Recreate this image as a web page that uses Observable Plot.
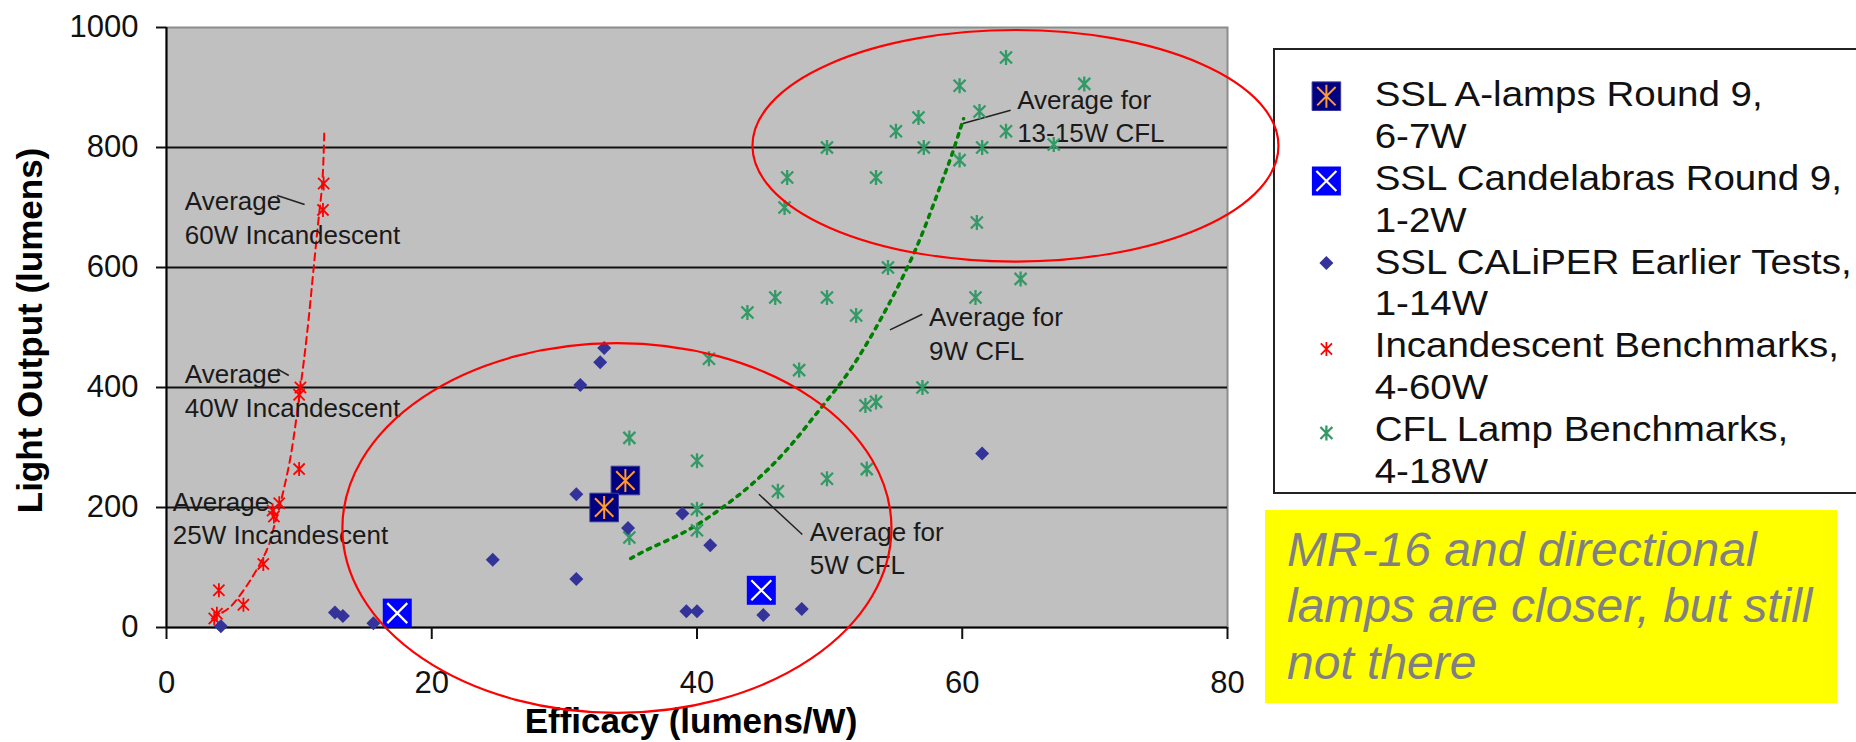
<!DOCTYPE html>
<html><head><meta charset="utf-8">
<script src="https://cdn.jsdelivr.net/npm/d3@7"></script>
<script src="https://cdn.jsdelivr.net/npm/@observablehq/plot@0.6"></script>
<style>
html,body{margin:0;padding:0;background:#fff;overflow:hidden;}
#wrap{position:relative;width:1856px;height:742px;overflow:hidden;font-family:"Liberation Sans",Arial,sans-serif;}
#legend{position:absolute;left:1273.3px;top:48.3px;}
#note{position:absolute;left:1264.6px;top:510px;width:572.4px;height:192.7px;background:#ffff00;color:#808080;font-style:italic;font-size:48px;line-height:56.7px;box-sizing:border-box;padding:11.7px 0 0 22.4px;white-space:nowrap;}
#chart{position:absolute;left:0;top:0;}
</style></head><body>
<div id="wrap"><div id="legend"></div><div id="note"></div><div id="chart"></div></div>
<script>
// ---------- data ----------
const xTicks = [0, 20, 40, 60, 80];
const yTicks = [0, 200, 400, 600, 800, 1000];
const gridLevels = [200, 400, 600, 800];

const seriesNames = [
  "SSL A-lamps Round 9,\n6-7W",
  "SSL Candelabras Round 9,\n1-2W",
  "SSL CALiPER Earlier Tests,\n1-14W",
  "Incandescent Benchmarks,\n4-60W",
  "CFL Lamp Benchmarks,\n4-18W"
];

const aLamps = [[34.6, 245], [33.0, 200]];
const candelabras = [[44.85, 62], [17.4, 24]];
const caliper = [
  [33.0, 466], [32.7, 442], [31.2, 404], [30.9, 222], [34.8, 166], [38.9, 190],
  [41.0, 137], [24.6, 113], [30.9, 81], [39.2, 27], [40.0, 27], [45.0, 21],
  [47.9, 31], [61.5, 290], [4.1, 2], [12.7, 25], [13.3, 19], [15.6, 7]
];
const incandescent = [
  [3.95, 62], [3.8, 23], [3.6, 15], [5.8, 38], [7.3, 106], [8.0, 195],
  [8.5, 207], [8.1, 185], [10.0, 264], [10.1, 400], [10.0, 388], [11.85, 740], [11.8, 696]
];
const cfl = [
  [49.8, 800], [46.8, 750], [53.5, 750], [46.6, 700], [54.4, 600], [43.8, 525],
  [45.9, 550], [49.8, 550], [52.0, 520], [63.3, 950], [59.8, 903], [69.2, 906],
  [56.7, 850], [61.3, 860], [55.0, 827], [63.3, 827], [57.1, 800], [61.5, 800],
  [66.9, 805], [59.8, 779], [61.1, 675], [64.4, 581], [61.0, 550], [57.0, 400],
  [40.9, 448], [47.7, 429], [52.7, 370], [53.5, 376], [34.9, 316], [40.0, 278],
  [49.8, 248], [52.8, 264], [46.1, 227], [40.0, 197], [40.0, 162], [34.9, 150]
];
const incandescentTrend = [
  [4.2, 25], [4.8, 34], [6.3, 78], [7.6, 131], [8.1, 167], [8.7, 217], [9.35, 284],
  [10.1, 400], [10.6, 490], [11.1, 600], [11.4, 667], [11.75, 742], [11.9, 828]
];
const cflTrend = [
  [35.0, 115], [36.0, 127], [39.3, 162], [41.8, 198], [44.3, 242], [46.6, 292],
  [49.1, 359], [51.6, 431], [54.2, 528], [56.5, 631], [58.5, 745], [59.2, 787], [60.1, 848]
];

const noteLabels = [
  "Average for\n13-15W CFL", "Average for\n9W CFL", "Average for\n5W CFL",
  "Average\n60W Incandescent", "Average\n40W Incandescent", "Average\n25W Incandescent"
];
const noteX = [64.14, 57.49, 48.5, 1.38, 1.38, 0.475];
const noteY = [905, 542, 185, 736, 447, 235];
const leaderX1 = [60.06, 54.55, 44.67, 8.35, 8.35, 7.09];
const leaderY1 = [840, 496, 222, 720, 431, 217];
const leaderX2 = [63.65, 56.99, 47.94, 10.41, 9.22, 7.97];
const leaderY2 = [862, 522, 155, 705, 420, 206];

const ellipseCX = [34.0, 64.05];
const ellipseCY = [165, 802];
const ellipseRX = [20.7, 19.83];
const ellipseRY = [308, 193];

const noteText = ["MR-16 and directional", "lamps are closer, but still", "not there"];

// ---------- symbols ----------
const rad = size => Math.sqrt(size / Math.PI);
const starSymbol = k => ({draw(ctx, size) {
  const r = rad(size), d = r * k;
  ctx.moveTo(0, -r); ctx.lineTo(0, r);
  ctx.moveTo(-d, -d); ctx.lineTo(d, d);
  ctx.moveTo(-d, d); ctx.lineTo(d, -d);
}});
const crossSymbol = {draw(ctx, size) {
  const r = rad(size);
  ctx.moveTo(-r, -r); ctx.lineTo(r, r);
  ctx.moveTo(-r, r); ctx.lineTo(r, -r);
}};
const squareSymbol = {draw(ctx, size) {
  const r = rad(size);
  ctx.moveTo(-r, -r); ctx.lineTo(r, -r); ctx.lineTo(r, r); ctx.lineTo(-r, r); ctx.closePath();
}};
const diamondSymbol = {draw(ctx, size) {
  const r = rad(size);
  ctx.moveTo(0, -r); ctx.lineTo(r, 0); ctx.lineTo(0, r); ctx.lineTo(-r, 0); ctx.closePath();
}};
const smallStar = starSymbol(0.8);
const innerStar = starSymbol(0.8);

const colors = {
  navy: "#000080", orange: "#ff9933", blue: "#0000ff",
  diamond: "#333399", red: "#ff0000", green: "#339966", trendGreen: "#008000"
};

const X = d => d[0], Y = d => d[1];

function ellipsesMark(index, scales) {
  const {x, y} = scales;
  const g = d3.create("svg:g");
  ellipseCX.forEach((cx, i) => {
    const px = x(cx), py = y(ellipseCY[i]);
    g.append("ellipse")
      .attr("cx", px).attr("cy", py)
      .attr("rx", x(cx + ellipseRX[i]) - px)
      .attr("ry", py - y(ellipseCY[i] + ellipseRY[i]))
      .attr("fill", "none").attr("stroke", colors.red).attr("stroke-width", 2.2);
  });
  return g.node();
}

const chart = Plot.plot({
  width: 1856, height: 742,
  marginLeft: 166, marginRight: 629, marginTop: 27, marginBottom: 115,
  style: {background: "transparent", fontFamily: "'Liberation Sans', Arial, sans-serif", overflow: "visible"},
  x: {domain: [0, 80], label: null},
  y: {domain: [0, 1000], label: null},
  marks: [
    Plot.frame({fill: "#c0c0c0", stroke: "#8c8c8c", strokeWidth: 2}),
    Plot.ruleY(gridLevels, {stroke: "#111", strokeWidth: 2}),
    Plot.ruleX([0], {stroke: "#000", strokeWidth: 2}),
    Plot.ruleY([0], {stroke: "#000", strokeWidth: 2}),
    Plot.axisY({ticks: yTicks, tickFormat: d3.format("d"), tickSize: 10, tickPadding: 18,
      fontSize: 31, color: "#111", strokeWidth: 2, label: null}),
    Plot.axisX({ticks: xTicks, tickFormat: d3.format("d"), tickSize: 12, tickPadding: 31,
      fontSize: 31, color: "#111", strokeWidth: 2, label: null}),
    Plot.text(["Light Output (lumens)"], {frameAnchor: "left", dx: -136, dy: 3, rotate: -90,
      textAnchor: "middle", lineAnchor: "middle", fontSize: 35, fontWeight: "bold", fill: "#000"}),
    Plot.text(["Efficacy (lumens/W)"], {frameAnchor: "bottom", dx: -6, dy: 81, lineAnchor: "top",
      textAnchor: "middle", fontSize: 35, fontWeight: "bold", fill: "#000"}),
    Plot.line(incandescentTrend, {x: X, y: Y, stroke: colors.red, strokeWidth: 2,
      strokeDasharray: "7,5", curve: "catmull-rom"}),
    Plot.line(cflTrend, {x: X, y: Y, stroke: colors.trendGreen, strokeWidth: 3.5,
      strokeDasharray: "3.5,6", curve: "catmull-rom"}),
    Plot.link(noteLabels, {x1: (d, i) => leaderX1[i], y1: (d, i) => leaderY1[i],
      x2: (d, i) => leaderX2[i], y2: (d, i) => leaderY2[i], stroke: "#222", strokeWidth: 1.5}),
    Plot.text(noteLabels, {x: (d, i) => noteX[i], y: (d, i) => noteY[i], text: d => d,
      textAnchor: "start", lineAnchor: "top", lineHeight: 1.3, fontSize: 26, fill: "#1a1a1a"}),
    Plot.dot(cfl, {x: X, y: Y, symbol: smallStar, r: 7.5, stroke: colors.green, strokeWidth: 2.3, fill: "none"}),
    Plot.dot(incandescent, {x: X, y: Y, symbol: smallStar, r: 7, stroke: colors.red, strokeWidth: 1.8, fill: "none"}),
    Plot.dot(caliper, {x: X, y: Y, symbol: diamondSymbol, r: 7, fill: colors.diamond, stroke: "none"}),
    Plot.dot(aLamps, {x: X, y: Y, symbol: squareSymbol, r: 14.3, fill: colors.navy, stroke: "#3a3aa0", strokeWidth: 1}),
    Plot.dot(aLamps, {x: X, y: Y, symbol: innerStar, r: 11.5, stroke: colors.orange, strokeWidth: 2, fill: "none"}),
    Plot.dot(candelabras, {x: X, y: Y, symbol: squareSymbol, r: 14.5, fill: colors.blue, stroke: "none"}),
    Plot.dot(candelabras, {x: X, y: Y, symbol: crossSymbol, r: 10, stroke: "#ffffff", strokeWidth: 2.2, fill: "none"}),
    ellipsesMark
  ]
});
document.getElementById("chart").appendChild(chart);

// ---------- legend ----------
const leg = d3.select("#legend").append("svg")
  .attr("width", 600).attr("height", 450)
  .style("font-family", "'Liberation Sans', Arial, sans-serif");
leg.append("rect").attr("x", 1).attr("y", 1).attr("width", 640).attr("height", 444)
  .attr("fill", "#fff").attr("stroke", "#222").attr("stroke-width", 2);

function symPath(sym, r) { const p = d3.path(); sym.draw(p, r * r * Math.PI); return p.toString(); }
const iconX = 53.4;
const iconY = [48.2, 133, 215, 301, 385];
const legendIcons = [
  [{sym: squareSymbol, r: 14.3, fill: colors.navy, stroke: "#3a3aa0", sw: 1}, {sym: innerStar, r: 11.5, fill: "none", stroke: colors.orange, sw: 2}],
  [{sym: squareSymbol, r: 14.5, fill: colors.blue, stroke: "none", sw: 0}, {sym: crossSymbol, r: 10, fill: "none", stroke: "#fff", sw: 2.2}],
  [{sym: diamondSymbol, r: 7, fill: colors.diamond, stroke: "none", sw: 0}],
  [{sym: smallStar, r: 7, fill: "none", stroke: colors.red, sw: 1.8}],
  [{sym: smallStar, r: 7.5, fill: "none", stroke: colors.green, sw: 2.3}]
];
const textX = 101.7, stretch = 1.1;
seriesNames.forEach((name, i) => {
  legendIcons[i].forEach(s => {
    leg.append("path").attr("d", symPath(s.sym, s.r))
      .attr("transform", `translate(${iconX},${iconY[i]})`)
      .attr("fill", s.fill).attr("stroke", s.stroke).attr("stroke-width", s.sw);
  });
  name.split("\n").forEach((line, j) => {
    leg.append("text")
      .attr("transform", `translate(${textX},${58.4 + (i * 2 + j) * 41.8}) scale(${stretch},1)`)
      .attr("font-size", 35).attr("fill", "#111").text(line);
  });
});

// ---------- note ----------
document.getElementById("note").innerHTML = noteText.join("<br>");
</script></body></html>
